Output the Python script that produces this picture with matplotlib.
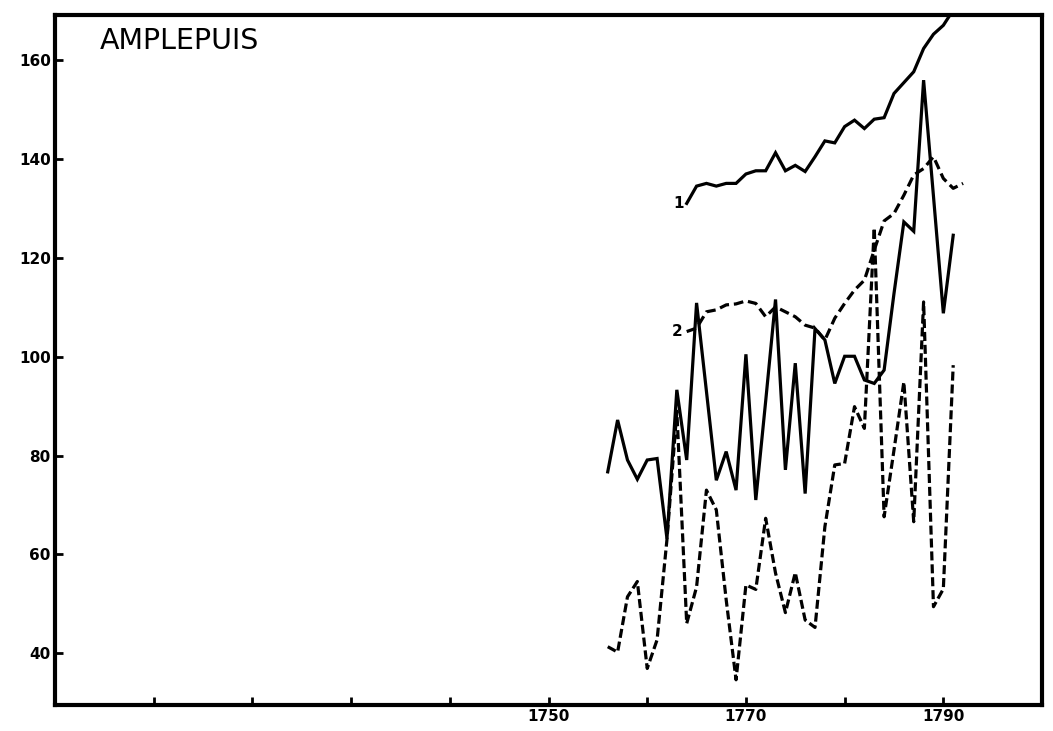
import matplotlib
matplotlib.use("Agg")
import matplotlib.pyplot as plt

plt.rcParams["font.family"] = ["DejaVu Sans"]
plt.rcParams["lines.scale_dashes"] = False

# Annual series, 1756-1791
years_low = list(range(1756, 1792))
solid_low = [76.7, 87.2, 79.1, 75.2, 79.1, 79.4, 63.2, 93.3, 79.1, 110.9,
             93.0, 75.0, 80.8, 73.0, 100.5, 71.0, 91.0, 111.6, 77.1, 98.7,
             72.3, 105.7, 103.4, 94.6, 100.1, 100.1, 95.3, 94.6, 97.3, 112.8,
             127.3, 125.4, 156.0, 132.5, 108.8, 124.6]
dashed_low = [41.3, 40.2, 51.4, 54.5, 36.9, 42.7, 63.0, 89.0, 46.0, 53.4,
              73.0, 69.0, 50.8, 34.6, 53.8, 52.9, 67.3, 56.2, 48.2, 56.3,
              46.7, 45.2, 65.6, 78.1, 78.4, 89.9, 85.5, 126.1, 67.6, 81.1,
              94.9, 66.6, 111.1, 49.4, 53.0, 98.3]

# Curve 1 (solid) and curve 2 (dashed)
years_c1 = list(range(1764, 1792))
curve_1 = [131.05, 134.55, 135.1, 134.55, 135.1, 135.1, 137.0, 137.65, 137.65,
           141.3, 137.65, 138.75, 137.5, 140.5, 143.7, 143.3, 146.6, 147.9,
           146.2, 148.1, 148.4, 153.3, 155.5, 157.7, 162.4, 165.3, 167.1, 170.2]
years_c2 = list(range(1764, 1793))
curve_2 = [105.1, 105.8, 109.1, 109.5, 110.5, 110.7, 111.3, 110.8, 108.1,
           110.1, 109.1, 108.1, 106.4, 105.8, 103.4, 107.8, 110.8, 113.5,
           115.5, 121.6, 127.5, 129.0, 132.7, 136.8, 138.1, 140.5, 136.1,
           134.1, 135.1]

x_ticks = list(range(1710, 1800, 10))
x_labels = ["" if t not in (1750, 1770, 1790) else str(t) for t in x_ticks]
y_ticks = [40, 60, 80, 100, 120, 140, 160]

fig = plt.figure(figsize=(10.53, 7.31), dpi=100)
ax = fig.add_axes([0.0522, 0.03625, 0.9374, 0.9433])

lw = 2.3
ax.plot(years_c1, curve_1, color="black", lw=lw, solid_joinstyle="miter")
ax.plot(years_c2, curve_2, color="black", lw=lw, dashes=(7, 3.5))
ax.plot(years_low, solid_low, color="black", lw=lw, solid_joinstyle="miter")
ax.plot(years_low, dashed_low, color="black", lw=lw, dashes=(6.5, 2.8))

ax.annotate("1", xy=(years_c1[0], curve_1[0]), xytext=(-2, 0),
            textcoords="offset points", ha="right", va="center",
            fontsize=11, fontweight="bold")
ax.annotate("2", xy=(years_c2[0], curve_2[0]), xytext=(-3, 0),
            textcoords="offset points", ha="right", va="center",
            fontsize=11, fontweight="bold")

ax.text(0.045, 0.983, "AMPLEPUIS", transform=ax.transAxes,
        ha="left", va="top", fontsize=20.5)

ax.set_xlim(1700, 1800)
ax.set_ylim(29.6, 169.2)
ax.set_xticks(x_ticks)
ax.set_xticklabels(x_labels)
ax.set_yticks(y_ticks)
ax.set_yticklabels([str(v) for v in y_ticks])

for s in ax.spines.values():
    s.set_linewidth(3.0)
ax.tick_params(direction="in", length=6, width=2, pad=3, labelsize=11)
for lab in ax.get_xticklabels() + ax.get_yticklabels():
    lab.set_fontweight("bold")

fig.savefig("out.png", dpi=100, facecolor="white")
